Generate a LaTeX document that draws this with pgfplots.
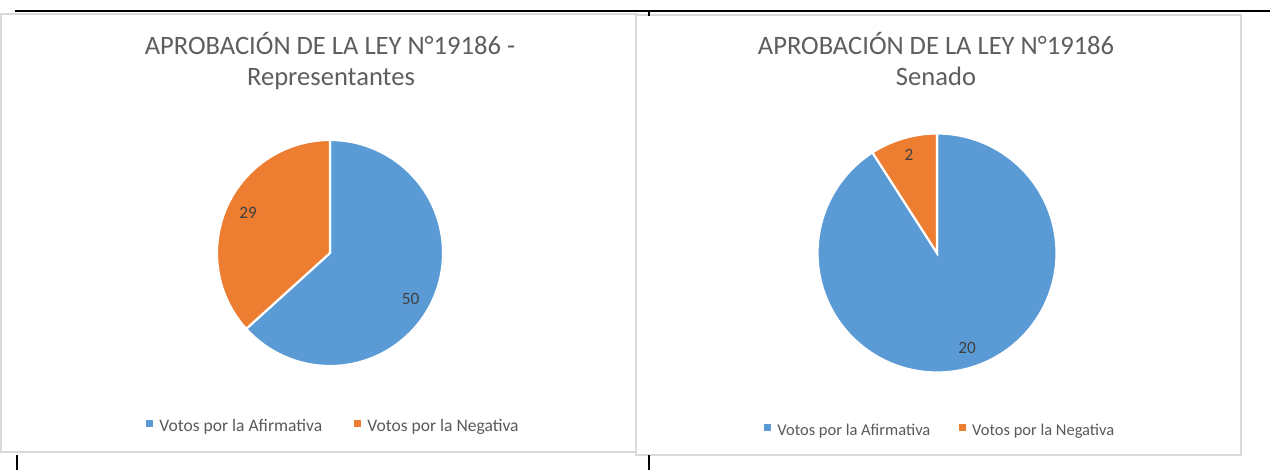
\documentclass[border=0pt]{standalone}
\usepackage{pgfplots}
\usepackage{pgfplotstable}
\pgfplotsset{compat=1.18}
\usepackage{fontspec}
\setmainfont{Carlito}
\definecolor{afirm}{HTML}{5B9BD5}
\definecolor{negat}{HTML}{ED7D31}
\definecolor{titlegray}{HTML}{5E5E5E}
\definecolor{leggray}{HTML}{595959}
\definecolor{lblgray}{HTML}{404040}
\definecolor{framegray}{HTML}{D9D9D9}

% Votes, Chamber of Representatives
\pgfplotstableread{
cat value
Afirmativa 50
Negativa 29
}\repdata
% Votes, Senate
\pgfplotstableread{
cat value
Afirmativa 20
Negativa 2
}\sendata

\begin{document}%
\begin{tikzpicture}
\pgfplotstablegetelem{0}{value}\of\repdata \let\repA\pgfplotsretval
\pgfplotstablegetelem{1}{value}\of\repdata \let\repB\pgfplotsretval
\pgfplotstablegetelem{0}{value}\of\sendata \let\senA\pgfplotsretval
\pgfplotstablegetelem{1}{value}\of\sendata \let\senB\pgfplotsretval
\pgfmathsetmacro\repEnd{90-360*(\repA/(\repA+\repB))}
\pgfmathsetmacro\senEnd{90-360*(\senA/(\senA+\senB))}
\pgfplotsset{canvas/.style={
  scale only axis, width=952.5bp, height=352.5bp,
  xmin=0, xmax=1270, ymin=0, ymax=470, hide axis, clip=false,
  legend columns=2,
  legend style={draw=none, fill=none, inner sep=0pt,
    nodes={inner sep=0pt},
    /tikz/every odd column/.append style={column sep=4.9bp}},
  legend cell align=left,
  legend image code/.code={\fill[##1] (0bp,0.2bp) rectangle (4.6bp,4.8bp);},
}}
% ---------- left chart ----------
\begin{axis}[canvas,
  legend style={at={(146/1270,43.5/470)}, anchor=west,
    font=\fontsize{13.2}{15}\selectfont\color{leggray},
    /tikz/every even column/.append style={column sep=24bp}}]
\addlegendimage{afirm}
\addlegendentry{Votos por la Afirmativa}
\addlegendimage{negat}
\addlegendentry{Votos por la Negativa}
% frames and page lines
\draw[framegray, line width=0.9bp] (axis cs:1,456) rectangle (axis cs:637,18);
\draw[framegray, line width=0.9bp, fill=white] (axis cs:636,455) rectangle (axis cs:1241,15);
\draw[black, line width=1.6bp] (axis cs:15,459) -- (axis cs:1270,459);
\draw[black, line width=1.2bp] (axis cs:17,15) -- (axis cs:17,0);
\draw[black, line width=1.2bp] (axis cs:649,15) -- (axis cs:649,0);
\draw[black, line width=1.2bp] (axis cs:649,459) -- (axis cs:649,454);
% pie
\fill[afirm, draw=white, line width=1.6bp] (axis cs:330,217) -- ++(90:84.75bp)
  arc[start angle=90, end angle=\repEnd, radius=84.75bp] -- cycle;
\fill[negat, draw=white, line width=1.6bp] (axis cs:330,217) -- ++(\repEnd:84.75bp)
  arc[start angle=\repEnd, end angle=-270, radius=84.75bp] -- cycle;
\node[lblgray, font=\fontsize{13}{15}\selectfont] at (axis cs:248,257) {\repB};
\node[lblgray, font=\fontsize{13}{15}\selectfont] at (axis cs:410.5,171) {\repA};
% title
\node[titlegray, font=\fontsize{20}{24}\selectfont, anchor=base] at (axis cs:330,415) {APROBACIÓN DE LA LEY N°19186 -};
\node[titlegray, font=\fontsize{20}{24}\selectfont, anchor=base] at (axis cs:331,384) {Representantes};
\end{axis}
% ---------- right chart ----------
\begin{axis}[canvas,
  legend style={at={(764/1270,39.5/470)}, anchor=west,
    font=\fontsize{12.4}{14}\selectfont\color{leggray},
    /tikz/every even column/.append style={column sep=21.5bp}}]
\addlegendimage{afirm}
\addlegendentry{Votos por la Afirmativa}
\addlegendimage{negat}
\addlegendentry{Votos por la Negativa}
\fill[afirm, draw=white, line width=1.6bp] (axis cs:937,217) -- ++(90:89.6bp)
  arc[start angle=90, end angle=\senEnd, radius=89.6bp] -- cycle;
\fill[negat, draw=white, line width=1.6bp] (axis cs:937,217) -- ++(\senEnd:89.6bp)
  arc[start angle=\senEnd, end angle=-270, radius=89.6bp] -- cycle;
\node[lblgray, font=\fontsize{13}{15}\selectfont] at (axis cs:909,315) {\senB};
\node[lblgray, font=\fontsize{13}{15}\selectfont] at (axis cs:967,122) {\senA};
\node[titlegray, font=\fontsize{20}{24}\selectfont, anchor=base] at (axis cs:936,415) {APROBACIÓN DE LA LEY N°19186};
\node[titlegray, font=\fontsize{20}{24}\selectfont, anchor=base] at (axis cs:936,384) {Senado};
\end{axis}
\pgfresetboundingbox
\path (0,0) rectangle (952.5bp,352.5bp);
\end{tikzpicture}%
\end{document}
